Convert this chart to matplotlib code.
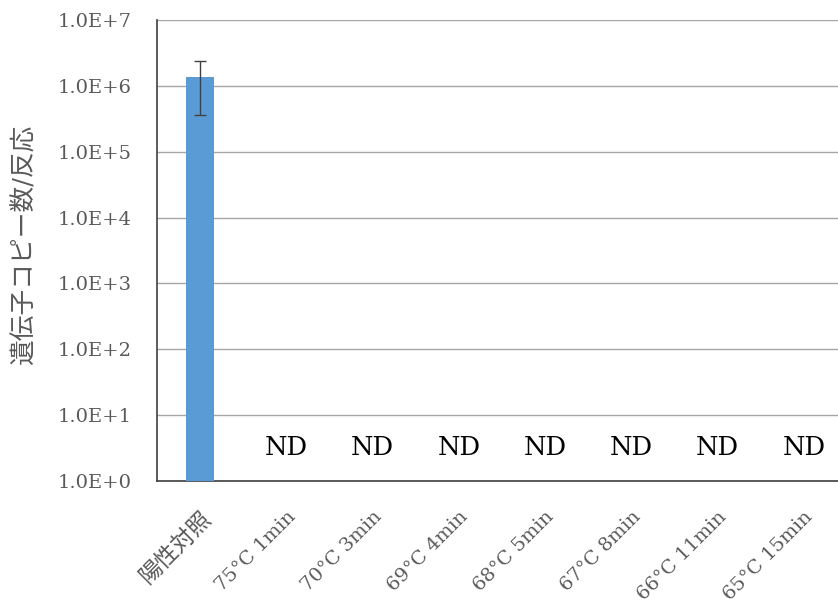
import numpy as np
import matplotlib
matplotlib.use("Agg")
import matplotlib.pyplot as plt

categories = ["陽性対照", "75°C 1min", "70°C 3min", "69°C 4min",
              "68°C 5min", "67°C 8min", "66°C 11min", "65°C 15min"]
copies = [1.36e6, np.nan, np.nan, np.nan, np.nan, np.nan, np.nan, np.nan]
errors = [1.0e6, 0, 0, 0, 0, 0, 0, 0]
nd_label = "ND"
y_ticks = [1e0, 1e1, 1e2, 1e3, 1e4, 1e5, 1e6, 1e7]
y_tick_labels = ["1.0E+0", "1.0E+1", "1.0E+2", "1.0E+3", "1.0E+4", "1.0E+5", "1.0E+6", "1.0E+7"]

serif = ["DejaVu Serif", "Noto Sans CJK JP"]
grey_text = "#595959"

fig = plt.figure(figsize=(8.38, 6.07), dpi=100)
ax = fig.add_axes([0.1873, 0.2076, 0.8234, 0.7594])

x = np.arange(len(categories))
ax.bar(x[:1], copies[:1], width=0.33, color="#5B9BD5", zorder=3)
ax.errorbar(x[:1], copies[:1], yerr=errors[:1], fmt="none", ecolor="#404040",
            elinewidth=1, capsize=4.5, capthick=1, zorder=4)

for i, v in enumerate(copies):
    if np.isnan(v):
        ax.text(i, 3.2, nd_label, ha="center", va="center", fontsize=18.5,
                family=serif, color="black")

ax.set_yscale("log")
ax.set_ylim(1, 1e7)
ax.set_xlim(-0.5, len(categories) - 0.5)
ax.set_yticks(y_ticks)
ax.set_yticklabels(y_tick_labels, family=serif, fontsize=14, color=grey_text)
ax.yaxis.set_minor_locator(matplotlib.ticker.NullLocator())
ax.set_xticks(x)
ax.set_xticklabels(categories, rotation=45, ha="right", rotation_mode="anchor",
                   fontsize=14, color=grey_text, family=serif)
# the Japanese label is drawn larger in the original
ax.get_xticklabels()[0].set_fontsize(16.5)
ax.tick_params(axis="y", length=0, pad=18)
ax.tick_params(axis="x", length=0, pad=19)

ax.grid(axis="y", color="#A6A6A6", linewidth=1, zorder=0)
for s in ["top", "right"]:
    ax.spines[s].set_visible(False)
ax.spines["left"].set_color("#404040")
ax.spines["bottom"].set_color("#404040")
ax.spines["left"].set_linewidth(1.2)
ax.spines["bottom"].set_linewidth(1.2)

ax.set_ylabel("遺伝子コピー数/反応", family=serif, fontsize=18.5, color=grey_text)
ax.yaxis.set_label_coords(-0.174, 0.514)

fig.savefig("out.png", dpi=100)
